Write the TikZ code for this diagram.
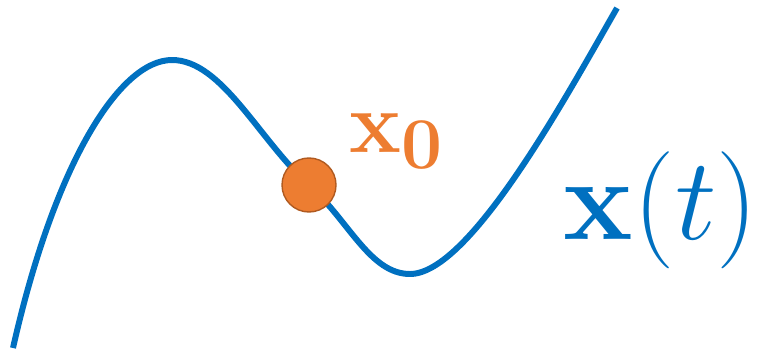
\documentclass[tikz,border=0pt]{standalone}
\usepackage{amsmath}
\usepackage{tikz}
\usetikzlibrary{positioning}
\definecolor{trajblue}{HTML}{0070C0}
\definecolor{ptorange}{HTML}{ED7D31}
\definecolor{ptedge}{HTML}{B05A20}

\begin{document}
\begin{tikzpicture}[
  traj/.style={draw=trajblue, line width=1.7pt},
  pt/.style={circle, fill=ptorange, draw=ptedge, line width=0.4pt, minimum size=5.4mm, inner sep=0pt},
  lblx/.style={text=ptorange, font=\fontsize{24.88}{30}\selectfont, inner sep=0pt, anchor=base west},
  lbltraj/.style={text=trajblue, font=\fontsize{24.88}{30}\selectfont, inner sep=0pt, anchor=base west, scale=1.34}
]
\useasboundingbox (0,0) rectangle (7.6,3.52);
% points on the trajectory
\coordinate (s) at (0.13,0.04);
\coordinate (top) at (1.72,2.92);
\coordinate (p) at (3.09,1.67);
\coordinate (dip) at (4.10,0.78);
\coordinate (e) at (6.17,3.44);
% the trajectory
\draw[traj] (s) .. controls (0.55,1.9) and (1.2,2.92) .. (top)
  .. controls (2.22,2.92) and (2.59,2.12) .. (p)
  .. controls (3.49,1.31) and (3.70,0.78) .. (dip)
  .. controls (4.70,0.78) and (5.67,2.57) .. (e);
% initial state
\node[pt] (x0) at (p) {};
\node[lblx] (x0lbl) at (3.49,2.00) {$\mathbf{x}_{\mathbf{0}}$};
\node[lbltraj] (xt) at (5.63,1.13) {$\mathbf{x}\mathbf{(}t\mathbf{)}$};
\end{tikzpicture}
\end{document}
